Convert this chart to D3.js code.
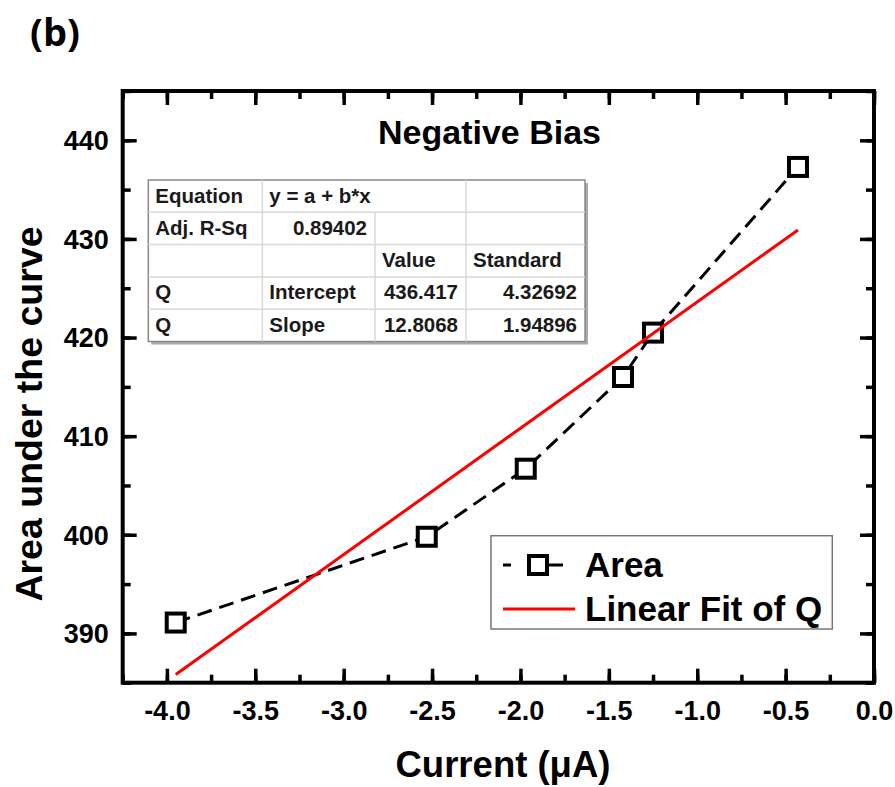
<!DOCTYPE html>
<html>
<head>
<meta charset="utf-8">
<script src="https://cdn.jsdelivr.net/npm/d3@7"></script>
<style>
  body { margin: 0; background: #fff; }
  text { font-family: "Liberation Sans", Arial, sans-serif; font-weight: bold; fill: #000; }
</style>
</head>
<body>
<svg id="chart" width="895" height="787"></svg>
<script>
// data
var current = [-3.95, -2.53, -1.97, -1.42, -1.25, -0.43];
var area    = [391.1, 399.8, 406.7, 416.0, 420.5, 437.3];

// linear fit shown in the table
var fitIntercept = 436.417;
var fitSlope = 12.8068;

var xTicks = [-4.0, -3.5, -3.0, -2.5, -2.0, -1.5, -1.0, -0.5, 0.0];
var xMinor = d3.range(-4.25, 0.01, 0.25);
var yTicks = [390, 400, 410, 420, 430, 440];
var yMinor = d3.range(385, 445.1, 5);

var tableRows = [
    ["Equation", "y = a + b*x", "", ""],
    ["Adj. R-Sq", "0.89402", "", ""],
    ["", "", "Value", "Standard"],
    ["Q", "Intercept", "436.417", "4.32692"],
    ["Q", "Slope", "12.8068", "1.94896"]
];
var legendLabels = ["Area", "Linear Fit of Q"];

var svg = d3.select("#chart");

// plot box (window.top is reserved, so keep own names)
var pLeft = 122.7, pRight = 874, pTop = 91, pBottom = 682.7;

var xScale = d3.scaleLinear().domain([-4.25, 0]).range([pLeft, pRight]);
var yScale = d3.scaleLinear().domain([385, 445]).range([pBottom, pTop]);

// axes, ticks pointing inward on all four sides
function draw_axis(axis, transform, labels) {
    var g = svg.append("g")
               .attr("class", "axis")
               .attr("transform", transform)
               .call(axis);
    g.select(".domain").remove();
    g.selectAll(".tick line").attr("stroke", "#000").attr("stroke-width", 3.5);
    g.selectAll(".tick text")
     .style("font-size", "27px")
     .style("font-family", "'Liberation Sans', Arial, sans-serif")
     .style("font-weight", "bold")
     .attr("fill", "#000");
    if (!labels) g.selectAll(".tick text").remove();
    return g;
}

var fmt = d => d.toFixed(1);

// minor ticks
draw_axis(d3.axisBottom(xScale).tickValues(xMinor).tickSize(-8).tickFormat(""), "translate(0," + pBottom + ")", false);
draw_axis(d3.axisTop(xScale).tickValues(xMinor).tickSize(-8).tickFormat(""), "translate(0," + pTop + ")", false);
draw_axis(d3.axisLeft(yScale).tickValues(yMinor).tickSize(-8).tickFormat(""), "translate(" + pLeft + ",0)", false);
draw_axis(d3.axisRight(yScale).tickValues(yMinor).tickSize(-8).tickFormat(""), "translate(" + pRight + ",0)", false);

// major ticks
var xb = draw_axis(d3.axisBottom(xScale).tickValues(xTicks).tickSize(-14).tickFormat(fmt), "translate(0," + pBottom + ")", true);
xb.selectAll(".tick text").attr("y", 18);
draw_axis(d3.axisTop(xScale).tickValues(xTicks).tickSize(-14), "translate(0," + pTop + ")", false);
var yl = draw_axis(d3.axisLeft(yScale).tickValues(yTicks).tickSize(-14).tickFormat(d3.format("d")), "translate(" + pLeft + ",0)", true);
yl.selectAll(".tick text").attr("x", -14).attr("dy", "0.35em");
draw_axis(d3.axisRight(yScale).tickValues(yTicks).tickSize(-14), "translate(" + pRight + ",0)", false);

// frame
svg.append("rect")
   .attr("x", pLeft).attr("y", pTop)
   .attr("width", pRight - pLeft).attr("height", pBottom - pTop)
   .attr("fill", "none").attr("stroke", "#000").attr("stroke-width", 4);

// dashed data line
var pts = current.map((c, i) => [c, area[i]]);
var line = d3.line().x(d => xScale(d[0])).y(d => yScale(d[1]));

svg.append("path")
   .datum(pts)
   .attr("d", line)
   .attr("fill", "none")
   .attr("stroke", "#000")
   .attr("stroke-width", 3)
   .attr("stroke-dasharray", "15 8");

svg.selectAll("rect.pt")
   .data(pts)
   .enter()
   .append("rect")
   .attr("class", "pt")
   .attr("x", d => xScale(d[0]) - 9)
   .attr("y", d => yScale(d[1]) - 9)
   .attr("width", 18).attr("height", 18)
   .attr("fill", "#fff")
   .attr("stroke", "#000")
   .attr("stroke-width", 4);

// fit line over the data range
var xr = d3.extent(current);
var fitPts = xr.map(x => [x, fitIntercept + fitSlope * x]);
svg.append("path")
   .datum(fitPts)
   .attr("d", line)
   .attr("fill", "none")
   .attr("stroke", "#ff0000")
   .attr("stroke-width", 3);

// title and labels
svg.append("text").attr("x", 30).attr("y", 46)
   .style("font-family", "'Open Sans', sans-serif")
   .style("font-size", "38px").text("(b)");

svg.append("text").attr("x", 489.5).attr("y", 143.5)
   .attr("text-anchor", "middle")
   .style("font-size", "34px").text("Negative Bias");

svg.append("text").attr("x", 503).attr("y", 777)
   .attr("text-anchor", "middle")
   .style("font-size", "36.5px").text("Current (\u03bcA)");

svg.append("text")
   .attr("transform", "translate(41.5,414) rotate(-90)")
   .attr("text-anchor", "middle")
   .style("font-size", "37.5px").text("Area under the curve");

// fit table
var colX = [148.3, 262.3, 375, 466, 585];
var rowY0 = 180, rowH = 32.3;
var tbl = svg.append("g").attr("class", "table");

tbl.append("rect")
   .attr("x", colX[0] + 3).attr("y", rowY0 + 3)
   .attr("width", colX[4] - colX[0]).attr("height", rowH * tableRows.length)
   .attr("fill", "#aaa");
tbl.append("rect")
   .attr("x", colX[0]).attr("y", rowY0)
   .attr("width", colX[4] - colX[0]).attr("height", rowH * tableRows.length)
   .attr("fill", "#fff").attr("stroke", "#888").attr("stroke-width", 1.5);

// horizontal inner lines
d3.range(1, tableRows.length).forEach(function(r) {
    tbl.append("line")
       .attr("x1", colX[0]).attr("x2", colX[4])
       .attr("y1", rowY0 + r * rowH).attr("y2", rowY0 + r * rowH)
       .attr("stroke", "#d8d8d8").attr("stroke-width", 1.5);
});
// vertical inner lines (col 2|3 split starts from the second row)
[1, 2, 3].forEach(function(c) {
    tbl.append("line")
       .attr("x1", colX[c]).attr("x2", colX[c])
       .attr("y1", c == 2 ? rowY0 + rowH : rowY0).attr("y2", rowY0 + rowH * tableRows.length)
       .attr("stroke", "#d8d8d8").attr("stroke-width", 1.5);
});

var rightAligned = function(r, c) { return (r == 1 && c == 1) || (r >= 3 && c >= 2); };

tableRows.forEach(function(row, r) {
    row.forEach(function(cell, c) {
        if (cell == "") return;
        var ra = rightAligned(r, c);
        tbl.append("text")
           .attr("x", ra ? colX[c + 1] - 8 : colX[c] + 7)
           .attr("y", rowY0 + r * rowH + 22.5)
           .attr("text-anchor", ra ? "end" : "start")
           .style("font-size", "20.5px")
           .style("fill", "#1a1a1a")
           .text(cell);
    });
});

// legend
var lg = svg.append("g").attr("class", "legend");
lg.append("rect")
  .attr("x", 491).attr("y", 535.7)
  .attr("width", 341.3).attr("height", 93.3)
  .attr("fill", "#fff").attr("stroke", "#777").attr("stroke-width", 1.5);

lg.append("line")
  .attr("x1", 503).attr("x2", 563).attr("y1", 565).attr("y2", 565)
  .attr("stroke", "#000").attr("stroke-width", 3)
  .attr("stroke-dasharray", "8 38 14");
lg.append("rect")
  .attr("x", 529).attr("y", 556).attr("width", 18).attr("height", 18)
  .attr("fill", "#fff").attr("stroke", "#000").attr("stroke-width", 4);
lg.append("line")
  .attr("x1", 503).attr("x2", 575).attr("y1", 609).attr("y2", 609)
  .attr("stroke", "#ff0000").attr("stroke-width", 3);

lg.selectAll("text.lab")
  .data(legendLabels)
  .enter()
  .append("text")
  .attr("class", "lab")
  .attr("x", 585)
  .attr("y", (d, i) => 577 + i * 44)
  .style("font-size", "35px")
  .text(d => d);
</script>
</body>
</html>
